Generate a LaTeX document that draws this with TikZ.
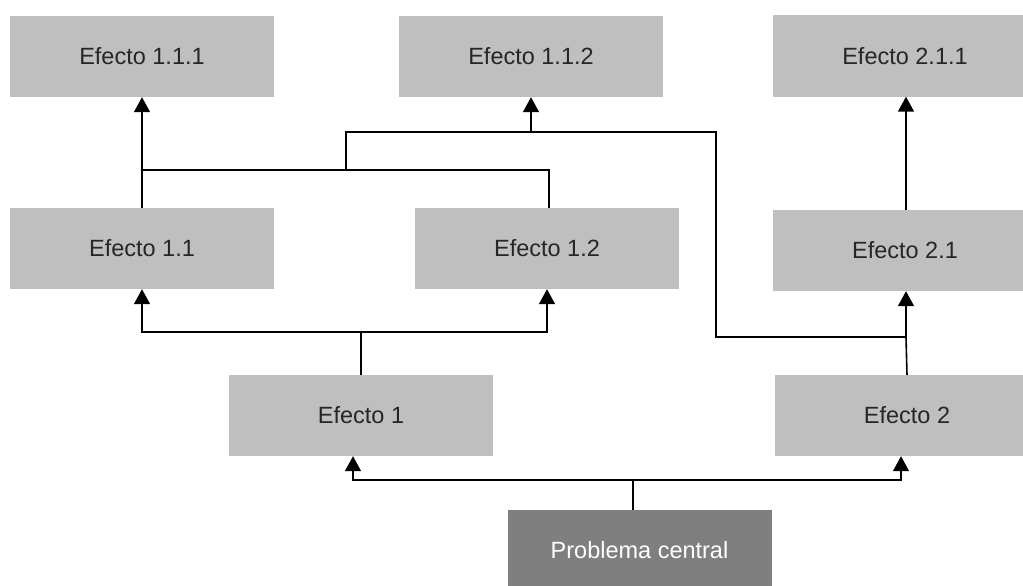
\documentclass[tikz,border=0pt]{standalone}
\usepackage{fontspec}
\setmainfont{Liberation Sans}
\usetikzlibrary{arrows.meta}
\definecolor{boxgray}{HTML}{BFBFBF}
\definecolor{darkbox}{HTML}{7F7F7F}
\definecolor{txt}{HTML}{262626}
\begin{document}
\begin{tikzpicture}[x=1pt,y=-1pt,
  effbox/.style={fill=boxgray, draw=none, minimum width=264pt, minimum height=81pt, inner sep=0pt,
    text=txt, font=\fontsize{23.5}{28}\selectfont},
  mainbox/.style={effbox, fill=darkbox, text=white},
  conn/.style={line width=1.6pt, black},
  arr/.style={conn, -{Triangle[width=16pt,length=15pt]}}]
\useasboundingbox (0,0) rectangle (1023,586);

\node[effbox]  (e111) at (142,56.5)  {Efecto 1.1.1};
\node[effbox]  (e112) at (531,56.5)  {Efecto 1.1.2};
\node[effbox]  (e211) at (905,56)    {Efecto 2.1.1};
\node[effbox]  (e11)  at (142,248.5) {Efecto 1.1};
\node[effbox]  (e12)  at (547,248.5) {Efecto 1.2};
\node[effbox]  (e21)  at (905,250.5) {Efecto 2.1};
\node[effbox]  (e1)   at (361,415.5) {Efecto 1};
\node[effbox]  (e2)   at (907,415.5) {Efecto 2};
\node[mainbox] (pc)   at (639.5,550.5) {Problema central};

% junction points
\coordinate (jpc) at (633,480);
\coordinate (je1) at (361,332);
\coordinate (ja)  at (142,170);
\coordinate (jb)  at (346,170);
\coordinate (jc)  at (346,132);
\coordinate (jd)  at (531,132);
\coordinate (je)  at (716,132);
\coordinate (jf)  at (716,337);
\coordinate (jg)  at (906,337);

% Problema central -> Efecto 1, Efecto 2
\draw[conn] (jpc |- pc.north) -- (jpc);
\draw[arr] (jpc) -| ([xshift=-8]e1.south);
\draw[arr] (jpc) -| ([xshift=-6]e2.south);

% Efecto 1 -> Efecto 1.1, Efecto 1.2
\draw[conn] (e1.north) -- (je1);
\draw[arr] (je1) -| (e11.south);
\draw[arr] (je1) -| (e12.south);

% Efecto 1.1 -> Efecto 1.1.1
\draw[arr] (e11.north) -- (e111.south);
% Efecto 1.2 joins
\draw[conn] (ja) -| ([xshift=2]e12.north);
% towards Efecto 1.1.2
\draw[conn] (jb) -- (jc) -- (je) -- (jf) -- (jg);
\draw[arr] (jd) -- (e112.south);

% Efecto 2 -> Efecto 2.1
\draw[conn] (e2.north) -- (jg);
\draw[arr] (jg) -- (jg |- e21.south);

% Efecto 2.1 -> Efecto 2.1.1
\draw[arr] ([xshift=1]e21.north) -- ([xshift=1]e211.south);
\end{tikzpicture}
\end{document}
